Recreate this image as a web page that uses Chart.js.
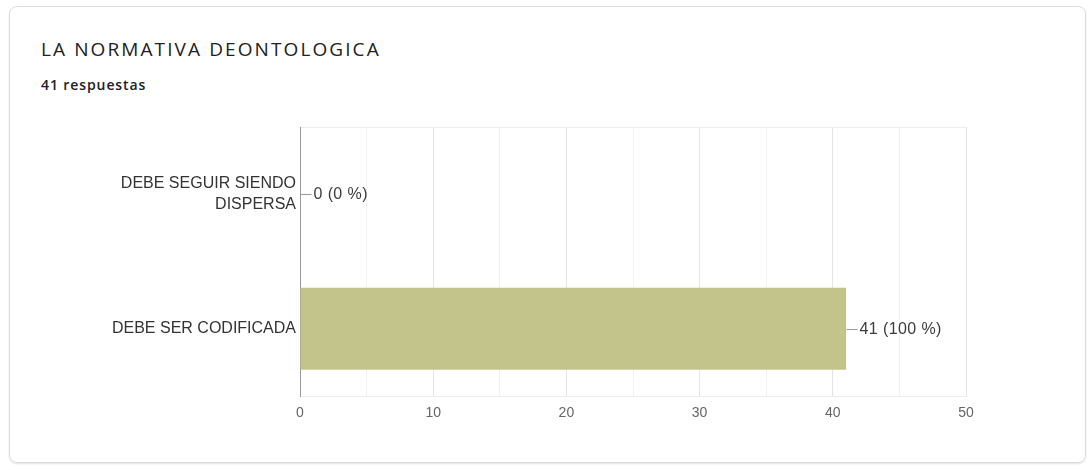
<!DOCTYPE html>
<html>
<head>
<meta charset="utf-8">
<script src="https://cdn.jsdelivr.net/npm/chart.js@4.4.1/dist/chart.umd.min.js"></script>
<style>
  html, body { margin: 0; padding: 0; background: #fff; }
  body { width: 1088px; height: 470px; position: relative; overflow: hidden; }
  .card {
    position: absolute; left: 9px; top: 6px; width: 1075px; height: 455px;
    border: 1px solid #dadce0; border-radius: 8px;
    box-shadow: 0 1px 2px rgba(0,0,0,0.12);
  }
  .titulo {
    position: absolute; left: 41px; top: 36px; margin: 0;
    font: 400 19px "Open Sans", sans-serif; letter-spacing: 2.1px; color: #202124;
  }
  .sub {
    position: absolute; left: 41px; top: 75px; margin: 0;
    font: 600 14px "Open Sans", sans-serif; letter-spacing: 0.9px; color: #202124;
  }
  #wrap { position: absolute; left: 0; top: 0; width: 1088px; height: 470px; }
</style>
</head>
<body>
<div class="card"></div>
<p class="titulo">LA NORMATIVA DEONTOLOGICA</p>
<p class="sub">41 respuestas</p>
<div id="wrap"><canvas id="grafico"></canvas></div>
<script>
// datos de la encuesta
const categorias = [["DEBE SEGUIR SIENDO", "DISPERSA"], "DEBE SER CODIFICADA"];
const respuestas = [0, 41];
const ejeX = [0, 10, 20, 30, 40, 50];

const total = respuestas.reduce((a, b) => a + b, 0);

// etiquetas "n (p %)" con su rayita a la derecha de cada barra
const etiquetasBarras = {
  id: 'etiquetasBarras',
  afterDatasetsDraw(chart) {
    const { ctx } = chart;
    const meta = chart.getDatasetMeta(0);
    ctx.save();
    ctx.font = '16px "Liberation Sans", Arial, sans-serif';
    ctx.letterSpacing = '0.4px';
    ctx.textBaseline = 'middle';
    ctx.fillStyle = '#3c3c3c';
    ctx.strokeStyle = '#999';
    ctx.lineWidth = 1;
    meta.data.forEach((bar, i) => {
      const v = respuestas[i];
      const pct = Math.round(v / total * 100);
      const x = Math.round(bar.x) + 0.5;
      const y = Math.round(bar.y) + 0.5;
      ctx.beginPath();
      ctx.moveTo(x, y);
      ctx.lineTo(x + 11, y);
      ctx.stroke();
      ctx.fillText(v + ' (' + pct + ' %)', x + 13, y);
    });
    ctx.restore();
  }
};

new Chart(document.getElementById('grafico'), {
  type: 'bar',
  data: {
    labels: categorias,
    datasets: [{
      data: respuestas,
      backgroundColor: '#c3c48c',
      borderWidth: 0,
      categoryPercentage: 1,
      barPercentage: 0.61
    }]
  },
  options: {
    indexAxis: 'y',
    responsive: true,
    maintainAspectRatio: false,
    animation: false,
    layout: { padding: { top: 127, right: 122, bottom: 0, left: 0 } },
    plugins: {
      legend: { display: false },
      tooltip: { enabled: false }
    },
    scales: {
      x: {
        min: 0,
        max: 50,
        afterFit(scale) { scale.height = 74; },
        afterBuildTicks(scale) {
          scale.ticks = [];
          for (let v = 0; v <= 50; v += 5) scale.ticks.push({ value: v });
        },
        ticks: {
          padding: 9,
          color: '#666',
          font: { family: '"Liberation Sans", Arial, sans-serif', size: 14 },
          callback: v => ejeX.includes(v) ? String(v) : ''
        },
        grid: {
          drawTicks: false,
          color: c => (c.tick && c.tick.value % 10 === 0) ? '#e4e4e4' : '#f1f1f1'
        },
        border: { color: '#ececec' }
      },
      y: {
        afterFit(scale) { scale.width = 300; },
        ticks: {
          padding: 4,
          color: '#333',
          font: { family: '"Liberation Sans", Arial, sans-serif', size: 16, lineHeight: 1.3 }
        },
        grid: {
          offset: true,
          drawTicks: false,
          color: c => c.index === 1 ? 'rgba(0,0,0,0)' : '#ececec'
        },
        border: { color: '#999', width: 1 }
      }
    }
  },
  plugins: [etiquetasBarras]
});
</script>
</body>
</html>
